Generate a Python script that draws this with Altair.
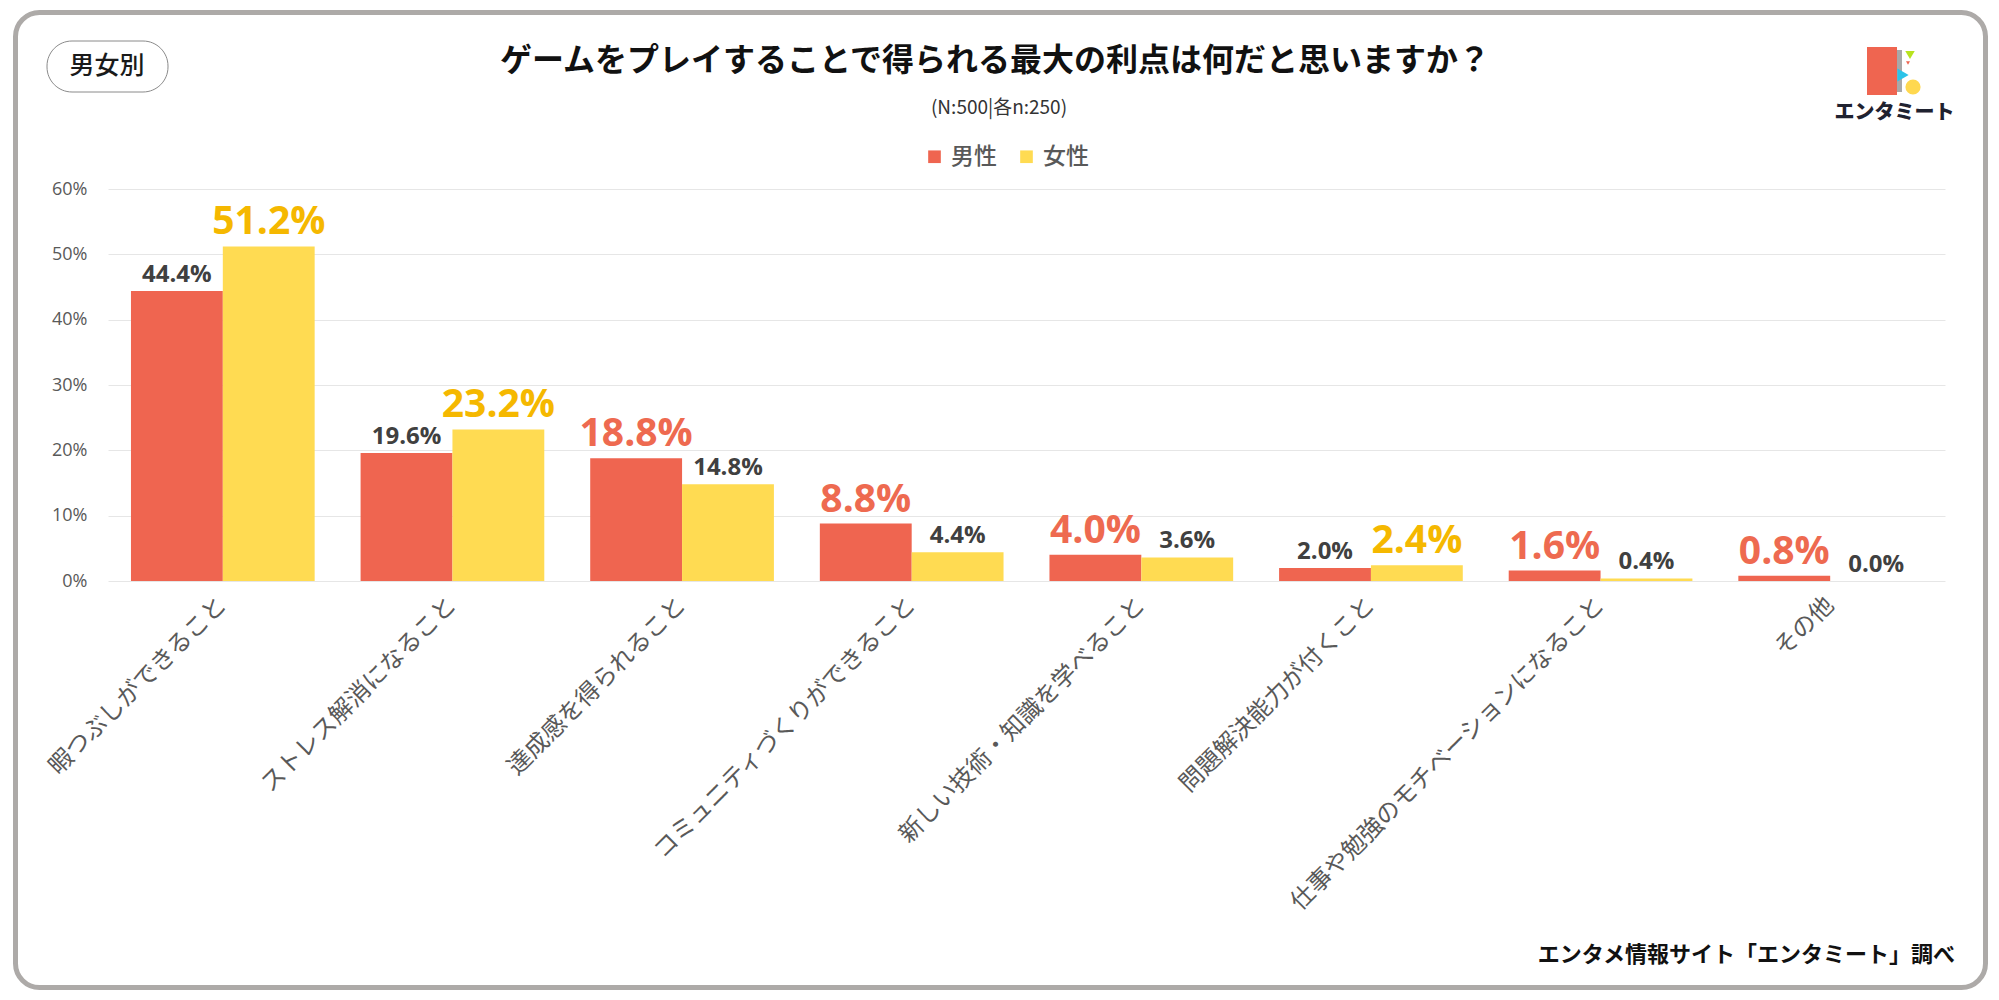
import altair as alt
import pandas as pd

categories = [
    "暇つぶしができること",
    "ストレス解消になること",
    "達成感を得られること",
    "コミュニティづくりができること",
    "新しい技術・知識を学べること",
    "問題解決能力が付くこと",
    "仕事や勉強のモチベーションになること",
    "その他",
]
genders = ["男性", "女性"]
male = [44.4, 19.6, 18.8, 8.8, 4.0, 2.0, 1.6, 0.8]
female = [51.2, 23.2, 14.8, 4.4, 3.6, 2.4, 0.4, 0.0]
y_ticks = [0, 10, 20, 30, 40, 50, 60]

RED = "#EF6550"
YELLOW = "#FFDB52"
RED_TXT = "#EE6A50"
GOLD_TXT = "#F5B800"
DARK_TXT = "#404040"
JP = "Noto Sans CJK JP"
NUM = "Open Sans"

rows = []
for i, c in enumerate(categories):
    m, f = male[i], female[i]
    rows.append({"category": c, "gender": "男性", "value": m,
                 "label": f"{m:.1f}%", "big": m > f})
    rows.append({"category": c, "gender": "女性", "value": f,
                 "label": f"{f:.1f}%", "big": f > m})
df = pd.DataFrame(rows)

one = pd.DataFrame({"k": [0]})

x_enc = alt.X("category:N", sort=categories,
              scale=alt.Scale(paddingInner=0.2, paddingOuter=0.1),
              axis=alt.Axis(title=None, labelAngle=-45, labelAlign="right",
                            labelBaseline="middle", labelPadding=20,
                            labelFont=JP, labelFontSize=24, labelColor="#595959",
                            ticks=False, domain=False, labelLimit=0))
xo_enc = alt.XOffset("gender:N", sort=genders)
y_enc = alt.Y("value:Q", scale=alt.Scale(domain=[0, 60], nice=False),
              axis=alt.Axis(title=None, values=y_ticks,
                            labelExpr="datum.value + '%'",
                            labelFont=NUM, labelFontSize=18, labelColor="#595959",
                            labelPadding=21, ticks=False, domain=False,
                            gridColor="#E6E6E6", gridWidth=1))

bars = alt.Chart(df).mark_bar().encode(
    x=x_enc, xOffset=xo_enc, y=y_enc,
    color=alt.Color("gender:N", sort=genders,
                    scale=alt.Scale(domain=genders, range=[RED, YELLOW]),
                    legend=alt.Legend(title=None, orient="none", direction="horizontal",
                                      legendX=815, legendY=-44,
                                      symbolType="square", symbolSize=160,
                                      symbolStrokeWidth=0, labelFont=JP,
                                      labelFontSize=23, labelColor="#595959",
                                      labelFontWeight=500,
                                      labelOffset=5, columnPadding=18, padding=0)),
)

small = alt.Chart(df).transform_filter("!datum.big").mark_text(
    font=NUM, fontWeight="bold", fontSize=24, color=DARK_TXT,
    baseline="bottom", dy=-4).encode(
    x=alt.X("category:N", sort=categories), xOffset=xo_enc,
    y=alt.Y("value:Q"), text="label:N")

big_m = alt.Chart(df).transform_filter("datum.big && datum.gender == '男性'").mark_text(
    font=NUM, fontWeight="bold", fontSize=39, color=RED_TXT,
    baseline="bottom", dy=-4).encode(
    x=alt.X("category:N", sort=categories), xOffset=xo_enc,
    y=alt.Y("value:Q"), text="label:N")

big_f = alt.Chart(df).transform_filter("datum.big && datum.gender == '女性'").mark_text(
    font=NUM, fontWeight="bold", fontSize=39, color=GOLD_TXT,
    baseline="bottom", dy=-4).encode(
    x=alt.X("category:N", sort=categories), xOffset=xo_enc,
    y=alt.Y("value:Q"), text="label:N")

# decorations (plot origin is at page (108, 189))
border = alt.Chart(one).mark_rect(fillOpacity=0, stroke="#ADAAA8", strokeWidth=5,
                                  cornerRadius=24).encode(
    x=alt.value(-92.5), x2=alt.value(1877.5), y=alt.value(-176.5), y2=alt.value(798.5))

pill = alt.Chart(one).mark_rect(fill="white", stroke="#8A8A8A", strokeWidth=1,
                                cornerRadius=25).encode(
    x=alt.value(-61), x2=alt.value(60), y=alt.value(-148), y2=alt.value(-97))
pill_txt = alt.Chart(one).mark_text(text="男女別", font=JP, fontSize=25, color="#1A1A1A",
                                    fontWeight=500, align="center", baseline="middle").encode(
    x=alt.value(-1), y=alt.value(-123))

title = alt.Chart(one).mark_text(
    text="ゲームをプレイすることで得られる最大の利点は何だと思いますか？",
    font=JP, fontSize=32, fontWeight="bold", color="#111111",
    align="center", baseline="middle").encode(x=alt.value(887), y=alt.value(-128))
subtitle = alt.Chart(one).mark_text(
    text="(N:500|各n:250)", font=JP, fontSize=19, color="#333333",
    align="center", baseline="middle").encode(x=alt.value(891), y=alt.value(-81))

footer = alt.Chart(one).mark_text(
    text="エンタメ情報サイト「エンタミート」調べ", font=JP, fontSize=22,
    fontWeight="bold", color="#111111", align="right", baseline="middle").encode(
    x=alt.value(1847), y=alt.value(766))

# logo
logo_red = alt.Chart(one).mark_rect(fill=RED).encode(
    x=alt.value(1759), x2=alt.value(1789), y=alt.value(-142), y2=alt.value(-94))
logo_gray = alt.Chart(one).mark_rect(fill="#A8A8A8").encode(
    x=alt.value(1789), x2=alt.value(1794), y=alt.value(-139), y2=alt.value(-97))
logo_cyan = alt.Chart(one).mark_point(shape="triangle-right", filled=True, opacity=1,
                                      fill="#2BC3E9", strokeWidth=0, size=170).encode(
    x=alt.value(1795), y=alt.value(-114))
logo_green = alt.Chart(one).mark_point(shape="triangle-down", filled=True, opacity=1,
                                       fill="#B8E31E", strokeWidth=0, size=90).encode(
    x=alt.value(1802), y=alt.value(-134))
logo_dot = alt.Chart(one).mark_point(shape="triangle-down", filled=True, opacity=1,
                                     fill=RED, strokeWidth=0, size=16).encode(
    x=alt.value(1800), y=alt.value(-126))
logo_yel = alt.Chart(one).mark_point(shape="circle", filled=True, opacity=1,
                                     fill="#FFD84F", strokeWidth=0, size=230).encode(
    x=alt.value(1805), y=alt.value(-102))
logo_txt = alt.Chart(one).mark_text(text="エンタミート", font=JP, fontSize=20,
                                    fontWeight=900, color="#1F2230",
                                    align="center", baseline="middle").encode(
    x=alt.value(1786.5), y=alt.value(-76))

chart = alt.layer(
    border, bars, small, big_m, big_f, pill, pill_txt, title, subtitle, footer,
    logo_red, logo_gray, logo_cyan, logo_green, logo_dot, logo_yel, logo_txt,
).properties(
    width=1837, height=392,
    autosize=alt.AutoSizeParams(type="none"),
    padding={"left": 100, "right": 46, "top": 181, "bottom": 411},
    background="white",
).configure_view(stroke=None).configure_axis(labelFont=JP)

chart.save("out.html", embed_options={"renderer": "svg", "actions": False})
